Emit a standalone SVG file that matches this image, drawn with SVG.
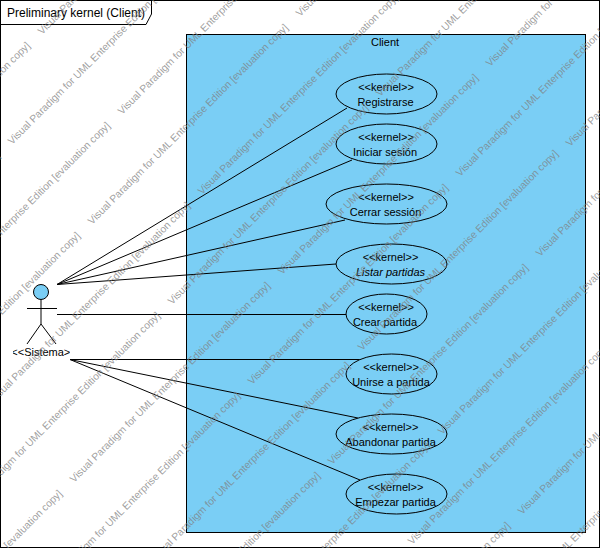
<svg xmlns="http://www.w3.org/2000/svg" width="600" height="548" viewBox="0 0 600 548">
<defs><clipPath id="actorclip"><rect x="13" y="344" width="57" height="18"/></clipPath></defs>
<style>
text{font-family:"Liberation Sans",Arial,sans-serif;font-size:11px;fill:#000}
.m{text-anchor:middle}
.i{font-style:italic}
.u{fill:#7acef5;stroke:#000;stroke-width:1}
.l{fill:none;stroke:#000;stroke-width:1}
.w{font-size:10.3px;fill:#808080;fill-opacity:.75}
</style>
<rect width="600" height="548" fill="#fff"/>
<g id="frame">
<rect class="l" x="0.5" y="0.5" width="599" height="547"/>
<path class="l" d="M0.5 24.5H146L151.5 14V0.5"/>
<text x="7" y="17" style="font-size:12px">Preliminary kernel (Client)</text>
</g>
<g id="system">
<rect class="u" x="186.5" y="34.5" width="399" height="498"/>
<text class="m" x="385" y="46">Client</text>
</g>
<g id="connectors">
<path class="l" d="M57 284.5L347 108M57 284.5L352 160M57 284.5L345 220M57 284.5L336 264M57 314.5H346M70 359.5H362M70 359.5L358 418M70 359.5L360 480"/>
</g>
<g id="actor">
<circle class="u" cx="41" cy="292" r="7.5"/>
<path class="l" d="M41 299.5V324M27 308.5H57M27 344L41 324L56 344"/>
<text class="m" x="44" y="356" clip-path="url(#actorclip)">&lt;&lt;Sistema&gt;&gt;</text>
</g>
<g id="uc1"><ellipse class="u" cx="386.5" cy="94" rx="50.5" ry="20"/><text class="m" x="386" y="91">&lt;&lt;kernel&gt;&gt;</text><text class="m" x="385.5" y="106">Registrarse</text></g>
<g id="uc2"><ellipse class="u" cx="386.5" cy="144" rx="50.5" ry="20"/><text class="m" x="386" y="141">&lt;&lt;kernel&gt;&gt;</text><text class="m" x="385" y="156">Iniciar sesión</text></g>
<g id="uc3"><ellipse class="u" cx="386.5" cy="204" rx="60.5" ry="20"/><text class="m" x="386" y="201">&lt;&lt;kernel&gt;&gt;</text><text class="m" x="385.5" y="216">Cerrar sessión</text></g>
<g id="uc4"><ellipse class="u" cx="391.5" cy="264" rx="55.5" ry="20"/><text class="m" x="390.5" y="261">&lt;&lt;kernel&gt;&gt;</text><text class="m i" x="390.5" y="276">Listar partidas</text></g>
<g id="uc5"><ellipse class="u" cx="386.5" cy="314" rx="40.5" ry="20"/><text class="m" x="386" y="311">&lt;&lt;kernel&gt;&gt;</text><text class="m" x="385" y="326">Crear partida</text></g>
<g id="uc6"><ellipse class="u" cx="391.5" cy="374" rx="45.5" ry="20"/><text class="m" x="391" y="371">&lt;&lt;kernel&gt;&gt;</text><text class="m" x="391" y="386">Unirse a partida</text></g>
<g id="uc7"><ellipse class="u" cx="391.5" cy="434" rx="55.5" ry="20"/><text class="m" x="390.5" y="431">&lt;&lt;kernel&gt;&gt;</text><text class="m" x="390.5" y="446">Abandonar partida</text></g>
<g id="uc8"><ellipse class="u" cx="396.5" cy="494" rx="50.5" ry="20"/><text class="m" x="395.5" y="491">&lt;&lt;kernel&gt;&gt;</text><text class="m" x="395.5" y="506">Empezar partida</text></g>
<g id="watermark">
<text class="w" transform="translate(42 35) rotate(-45)">Visual Paradigm for UML Enterprise Edition [evaluation copy]</text>
<text class="w" transform="translate(-166 243) rotate(-45)">Visual Paradigm for UML Enterprise Edition [evaluation copy]</text>
<text class="w" transform="translate(12 145) rotate(-45)">Visual Paradigm for UML Enterprise Edition [evaluation copy]</text>
<text class="w" transform="translate(-196 353) rotate(-45)">Visual Paradigm for UML Enterprise Edition [evaluation copy]</text>
<text class="w" transform="translate(122 115) rotate(-45)">Visual Paradigm for UML Enterprise Edition [evaluation copy]</text>
<text class="w" transform="translate(-86 323) rotate(-45)">Visual Paradigm for UML Enterprise Edition [evaluation copy]</text>
<text class="w" transform="translate(92 225) rotate(-45)">Visual Paradigm for UML Enterprise Edition [evaluation copy]</text>
<text class="w" transform="translate(300 17) rotate(-45)">Visual Paradigm for UML Enterprise Edition [evaluation copy]</text>
<text class="w" transform="translate(-116 433) rotate(-45)">Visual Paradigm for UML Enterprise Edition [evaluation copy]</text>
<text class="w" transform="translate(202 195) rotate(-45)">Visual Paradigm for UML Enterprise Edition [evaluation copy]</text>
<text class="w" transform="translate(-6 403) rotate(-45)">Visual Paradigm for UML Enterprise Edition [evaluation copy]</text>
<text class="w" transform="translate(172 305) rotate(-45)">Visual Paradigm for UML Enterprise Edition [evaluation copy]</text>
<text class="w" transform="translate(380 97) rotate(-45)">Visual Paradigm for UML Enterprise Edition [evaluation copy]</text>
<text class="w" transform="translate(-36 513) rotate(-45)">Visual Paradigm for UML Enterprise Edition [evaluation copy]</text>
<text class="w" transform="translate(282 275) rotate(-45)">Visual Paradigm for UML Enterprise Edition [evaluation copy]</text>
<text class="w" transform="translate(490 67) rotate(-45)">Visual Paradigm for UML Enterprise Edition [evaluation copy]</text>
<text class="w" transform="translate(74 483) rotate(-45)">Visual Paradigm for UML Enterprise Edition [evaluation copy]</text>
<text class="w" transform="translate(-134 691) rotate(-45)">Visual Paradigm for UML Enterprise Edition [evaluation copy]</text>
<text class="w" transform="translate(252 385) rotate(-45)">Visual Paradigm for UML Enterprise Edition [evaluation copy]</text>
<text class="w" transform="translate(460 177) rotate(-45)">Visual Paradigm for UML Enterprise Edition [evaluation copy]</text>
<text class="w" transform="translate(44 593) rotate(-45)">Visual Paradigm for UML Enterprise Edition [evaluation copy]</text>
<text class="w" transform="translate(362 351) rotate(-45)">Visual Paradigm for UML Enterprise Edition [evaluation copy]</text>
<text class="w" transform="translate(570 147) rotate(-45)">Visual Paradigm for UML Enterprise Edition [evaluation copy]</text>
<text class="w" transform="translate(154 563) rotate(-45)">Visual Paradigm for UML Enterprise Edition [evaluation copy]</text>
<text class="w" transform="translate(332 465) rotate(-45)">Visual Paradigm for UML Enterprise Edition [evaluation copy]</text>
<text class="w" transform="translate(540 257) rotate(-45)">Visual Paradigm for UML Enterprise Edition [evaluation copy]</text>
<text class="w" transform="translate(124 673) rotate(-45)">Visual Paradigm for UML Enterprise Edition [evaluation copy]</text>
<text class="w" transform="translate(442 435) rotate(-45)">Visual Paradigm for UML Enterprise Edition [evaluation copy]</text>
<text class="w" transform="translate(234 643) rotate(-45)">Visual Paradigm for UML Enterprise Edition [evaluation copy]</text>
<text class="w" transform="translate(412 545) rotate(-45)">Visual Paradigm for UML Enterprise Edition [evaluation copy]</text>
<text class="w" transform="translate(204 753) rotate(-45)">Visual Paradigm for UML Enterprise Edition [evaluation copy]</text>
<text class="w" transform="translate(522 515) rotate(-45)">Visual Paradigm for UML Enterprise Edition [evaluation copy]</text>
<text class="w" transform="translate(314 723) rotate(-45)">Visual Paradigm for UML Enterprise Edition [evaluation copy]</text>
<text class="w" transform="translate(492 625) rotate(-45)">Visual Paradigm for UML Enterprise Edition [evaluation copy]</text>
</g>
</svg>
